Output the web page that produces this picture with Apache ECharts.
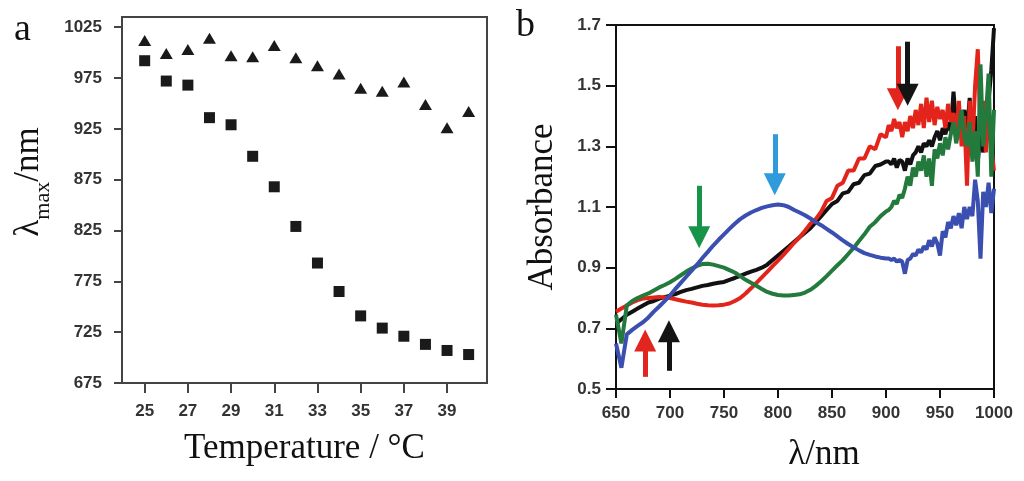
<!DOCTYPE html>
<html>
<head>
<meta charset="utf-8">
<script src="https://cdn.jsdelivr.net/npm/echarts@6/dist/echarts.min.js"></script>
<style>html,body{margin:0;padding:0;background:#fff}#c{width:1024px;height:481px}</style>
</head>
<body>
<div id="c"></div>
<script>
// ---- Panel a data ----
const temperatures = [25,26,27,28,29,30,31,32,33,34,35,36,37,38,39,40];
const lambdaSquares = [992,972,968,936,929,898,868,829,793,765,741,729,721,713,707,703];
const lambdaTriangles = [1012,999,1003,1014,997,996,1007,995,987,979,965,962,971,949,926,942];
const tempTicks = [25,27,29,31,33,35,37,39];
const lambdaTicks = [675,725,775,825,875,925,975,1025];

// ---- Panel b data ----
const wavelengths = [650,655,660,665,670,675,680,685,690,695,700,705,710,715,720,725,730,735,740,745,750,755,760,765,770,775,780,785,790,795,800,805,810,815,820,825,830,835,840,845,850,855,860,865,870,875,880,885,890,895,900,
902.5,905,907.5,910,912.5,915,917.5,920,922.5,925,927.5,930,932.5,935,937.5,940,942.5,945,947.5,950,952.5,955,957.5,960,962.5,965,967.5,970,972.5,975,977.5,980,982.5,985,987.5,990,992.5,995,997.5,1000];
const absBlack = [0.715,0.73,0.745,0.755,0.765,0.775,0.785,0.79,0.798,0.803,0.808,0.813,0.82,0.826,0.83,0.835,0.84,0.843,0.847,0.85,0.853,0.86,0.866,0.873,0.88,0.887,0.893,0.9,0.91,0.925,0.94,0.955,0.97,0.985,1.0,1.015,1.03,1.05,1.07,1.09,1.11,1.12,1.145,1.15,1.175,1.18,1.205,1.21,1.235,1.24,1.25,
1.25,1.24,1.26,1.23,1.255,1.25,1.22,1.26,1.24,1.27,1.28,1.3,1.28,1.31,1.3,1.32,1.3,1.33,1.35,1.32,1.36,1.34,1.38,1.35,1.48,1.37,1.42,1.38,1.42,1.35,1.46,1.3,1.4,1.25,1.35,1.28,1.38,1.45,1.55,1.69];
const absRed = [0.755,0.765,0.775,0.785,0.793,0.798,0.8,0.802,0.803,0.802,0.8,0.796,0.792,0.788,0.785,0.781,0.778,0.776,0.775,0.776,0.778,0.782,0.79,0.8,0.815,0.832,0.85,0.868,0.886,0.905,0.923,0.942,0.962,0.982,1.0,1.022,1.045,1.06,1.085,1.12,1.13,1.17,1.18,1.22,1.22,1.26,1.26,1.3,1.29,1.34,1.33,
1.37,1.35,1.39,1.36,1.38,1.33,1.38,1.35,1.4,1.36,1.42,1.37,1.44,1.36,1.46,1.38,1.45,1.37,1.43,1.39,1.42,1.36,1.44,1.38,1.41,1.34,1.45,1.3,1.4,1.17,1.45,1.3,1.5,1.62,1.35,1.45,1.28,1.4,1.3,1.22];
const absGreen = [0.745,0.65,0.775,0.79,0.8,0.808,0.815,0.825,0.835,0.843,0.852,0.863,0.875,0.887,0.897,0.906,0.912,0.913,0.91,0.905,0.9,0.892,0.884,0.872,0.86,0.85,0.84,0.83,0.82,0.814,0.81,0.808,0.808,0.81,0.812,0.818,0.827,0.84,0.855,0.872,0.89,0.908,0.925,0.945,0.965,0.988,1.01,1.035,1.05,1.07,1.085,
1.09,1.1,1.12,1.11,1.14,1.13,1.16,1.2,1.17,1.23,1.2,1.25,1.22,1.27,1.2,1.26,1.17,1.29,1.26,1.31,1.27,1.33,1.29,1.34,1.38,1.31,1.36,1.42,1.33,1.3,1.38,1.25,1.35,1.2,1.57,1.3,1.4,1.54,1.2,1.42];
const absBlue = [0.65,0.57,0.68,0.695,0.708,0.72,0.736,0.755,0.772,0.79,0.808,0.83,0.85,0.87,0.89,0.91,0.932,0.952,0.973,0.992,1.01,1.028,1.045,1.06,1.072,1.082,1.09,1.097,1.102,1.106,1.108,1.106,1.1,1.09,1.082,1.073,1.062,1.05,1.04,1.028,1.016,1.003,0.99,0.978,0.967,0.957,0.948,0.942,0.937,0.933,0.93,
0.93,0.925,0.93,0.92,0.925,0.92,0.88,0.925,0.93,0.945,0.94,0.96,0.95,0.97,0.96,0.99,0.97,1.0,0.98,0.94,1.02,1.0,1.05,1.03,1.07,1.04,1.08,1.03,1.1,1.06,1.1,1.07,1.19,1.12,0.93,1.15,1.1,1.18,1.08,1.16];
const absTicks = [0.5,0.7,0.9,1.1,1.3,1.5,1.7];

// arrows: wavelength, start absorbance, head-centre absorbance
const arrowLambda = [677, 699, 727, 797, 911, 920];
const arrowFrom   = [0.54, 0.56, 1.17, 1.34, 1.63, 1.645];
const arrowTo     = [0.66, 0.69, 1.0, 1.175, 1.455, 1.47];
const arrowColors = ['#e2251e', '#141414', '#18944a', '#2f9bdb', '#e2251e', '#141414'];

const tickFont = {fontFamily: 'Liberation Sans, Arial, sans-serif', fontWeight: 'bold', fontSize: 17, color: '#333'};
const nameFont = {fontFamily: 'Liberation Serif, Times New Roman, serif', fontSize: 35, color: '#111'};

function pairs(xs, ys) { return xs.map((x, i) => [x, ys[i]]); }
const plain = v => String(v);

const arrowData = arrowLambda.map((x, i) => {
  const c = arrowColors[i];
  return [
    {coord: [x, arrowFrom[i]], lineStyle: {color: c, width: 5, type: 'solid'}, itemStyle: {color: c}},
    {coord: [x, arrowTo[i]]}
  ];
});

const chart = echarts.init(document.getElementById('c'), null, {renderer: 'canvas'});
chart.setOption({
  animation: false,
  backgroundColor: '#fff',
  title: [
    {text: 'a', left: 9, top: 6, textStyle: {fontFamily: 'Liberation Serif, serif', fontSize: 38, fontWeight: 'normal', color: '#111'}},
    {text: 'b', left: 511, top: 2, textStyle: {fontFamily: 'Liberation Serif, serif', fontSize: 38, fontWeight: 'normal', color: '#111'}}
  ],
  grid: [
    {left: 122, top: 17, width: 365, height: 366, show: true, borderColor: '#444', borderWidth: 2, containLabel: false},
    {left: 616, top: 25, width: 378, height: 364, show: true, borderColor: '#111', borderWidth: 2, containLabel: false}
  ],
  xAxis: [
    {
      type: 'value', gridIndex: 0, min: 23.95, max: 40.85,
      name: 'Temperature / °C', nameLocation: 'middle', nameGap: 48, nameTextStyle: nameFont,
      axisLine: {show: true, onZero: false, lineStyle: {color: '#444', width: 2}},
      axisTick: {show: true, customValues: tempTicks, length: 10, lineStyle: {color: '#444', width: 2}},
      axisLabel: Object.assign({customValues: tempTicks, margin: 20, formatter: plain}, tickFont),
      splitLine: {show: false}
    },
    {
      type: 'value', gridIndex: 1, min: 650, max: 1000, interval: 50,
      name: 'λ/nm', nameLocation: 'middle', nameGap: 48,
      nameTextStyle: Object.assign({padding: [0, 0, 0, 38]}, nameFont),
      axisLine: {show: true, onZero: false, lineStyle: {color: '#111', width: 2}},
      axisTick: {show: true, length: 9, lineStyle: {color: '#111', width: 2}},
      axisLabel: Object.assign({margin: 16, formatter: plain}, tickFont),
      splitLine: {show: false}
    }
  ],
  yAxis: [
    {
      type: 'value', gridIndex: 0, min: 675, max: 1035,
      name: '{l|λ}{s|max}{l|/nm}', nameLocation: 'middle', nameGap: 76, nameRotate: 90,
      nameTextStyle: {padding: [0, 0, 0, 36], rich: {
        l: {fontFamily: 'Liberation Serif, serif', fontSize: 35, color: '#111'},
        s: {fontFamily: 'Liberation Serif, serif', fontSize: 22, color: '#111', verticalAlign: 'bottom', padding: [0, 0, -8, 0]}
      }},
      axisLine: {show: true, onZero: false, lineStyle: {color: '#444', width: 2}},
      axisTick: {show: true, customValues: lambdaTicks, length: 8, lineStyle: {color: '#444', width: 2}},
      axisLabel: Object.assign({customValues: lambdaTicks, margin: 20, formatter: plain}, tickFont),
      splitLine: {show: false}
    },
    {
      type: 'value', gridIndex: 1, min: 0.5, max: 1.7,
      name: 'Absorbance', nameLocation: 'middle', nameGap: 56, nameRotate: 90, nameTextStyle: nameFont,
      axisLine: {show: true, onZero: false, lineStyle: {color: '#111', width: 2}},
      axisTick: {show: true, customValues: absTicks, length: 10, lineStyle: {color: '#111', width: 2}},
      axisLabel: Object.assign({customValues: absTicks, margin: 15, formatter: v => v.toFixed(1)}, tickFont),
      splitLine: {show: false}
    }
  ],
  series: [
    {type: 'scatter', xAxisIndex: 0, yAxisIndex: 0, symbol: 'rect', symbolSize: 11,
     itemStyle: {color: '#1a1a1a', opacity: 1}, data: pairs(temperatures, lambdaSquares)},
    {type: 'scatter', xAxisIndex: 0, yAxisIndex: 0, symbol: 'triangle', symbolSize: [13, 11],
     itemStyle: {color: '#1a1a1a', opacity: 1}, data: pairs(temperatures, lambdaTriangles)},
    {type: 'line', xAxisIndex: 1, yAxisIndex: 1, showSymbol: false, lineStyle: {color: '#111', width: 4}, data: pairs(wavelengths, absBlack)},
    {type: 'line', xAxisIndex: 1, yAxisIndex: 1, showSymbol: false, lineStyle: {color: '#e3241b', width: 4}, data: pairs(wavelengths, absRed)},
    {type: 'line', xAxisIndex: 1, yAxisIndex: 1, showSymbol: false, lineStyle: {color: '#237a3c', width: 4}, data: pairs(wavelengths, absGreen)},
    {type: 'line', xAxisIndex: 1, yAxisIndex: 1, showSymbol: false, lineStyle: {color: '#3a4fb0', width: 4}, data: pairs(wavelengths, absBlue),
     markLine: {silent: true, symbol: ['none', 'triangle'], symbolSize: [22, 22], label: {show: false},
       lineStyle: {type: 'solid', width: 5},
       emphasis: {disabled: true}, animation: false, data: arrowData}}
  ]
});
</script>
</body>
</html>
